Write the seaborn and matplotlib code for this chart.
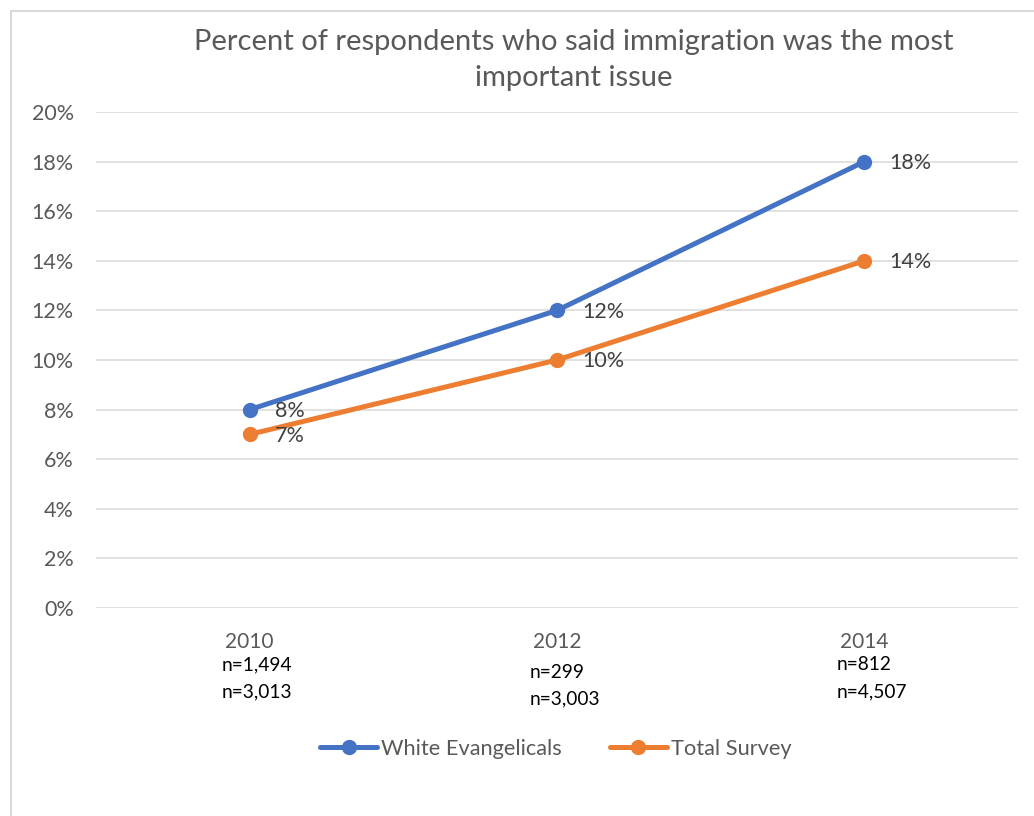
import numpy as np
import pandas as pd
import matplotlib
matplotlib.use("Agg")
import matplotlib.pyplot as plt
import matplotlib.transforms as mtransforms
from matplotlib.patches import Rectangle
import seaborn as sns

# Survey data
years = ["2010", "2012", "2014"]
white_evangelicals = [8, 12, 18]
total_survey = [7, 10, 14]
n_evangelicals = ["n=1,494", "n=299", "n=812"]
n_total = ["n=3,013", "n=3,003", "n=4,507"]
series_names = ["White Evangelicals", "Total Survey"]
title = "Percent of respondents who said immigration was the most\nimportant issue"

colors = {"White Evangelicals": "#4472C4", "Total Survey": "#ED7D31"}

pos = np.arange(len(years))
df = pd.concat([
    pd.DataFrame({"pos": pos, "year": years, "value": white_evangelicals,
                  "series": series_names[0]}),
    pd.DataFrame({"pos": pos, "year": years, "value": total_survey,
                  "series": series_names[1]}),
], ignore_index=True)

sns.set_theme(style="white")
plt.rcParams["font.family"] = ["Lato", "DejaVu Sans"]

W, H = 1034, 816
fig = plt.figure(figsize=(W / 100, H / 100), dpi=100)
ax = fig.add_axes([96 / W, 1 - 608 / H, (1018 - 96) / W, (608 - 112) / H])

sns.lineplot(data=df, x="pos", y="value", hue="series", palette=colors,
             hue_order=series_names, marker="o", markersize=11,
             markeredgewidth=0, linewidth=3.6, ax=ax, legend=False)

ax.set_xlim(-0.5, len(years) - 0.5)
ax.set_ylim(0, 20)
ax.set_yticks(np.arange(0, 21, 2))
ax.set_yticklabels([f"{v}%" for v in range(0, 21, 2)])
ax.set_xticks(pos)
ax.set_xticklabels(years)
ax.set_xlabel("")
ax.set_ylabel("")
ax.grid(axis="y", color="#D9D9D9", linewidth=1.1)
ax.grid(axis="x", visible=False)
ax.set_axisbelow(True)
for s in ax.spines.values():
    s.set_visible(False)
ax.tick_params(axis="y", length=0, pad=16, labelsize=15.5, labelcolor="#595959")
ax.tick_params(axis="x", length=0, pad=17, labelsize=15, labelcolor="#595959")

# Value labels to the right of each point
for name, vals in zip(series_names, [white_evangelicals, total_survey]):
    for p, v in zip(pos, vals):
        ax.annotate(f"{v}%", (p, v), xytext=(18, -1), textcoords="offset points",
                    ha="left", va="center", fontsize=15.5, color="#404040")

# Sample sizes below each year
trans = mtransforms.blended_transform_factory(ax.transData, fig.transFigure)
n_shift = [0, 7, 0]
for p, a, b, s in zip(pos, n_evangelicals, n_total, n_shift):
    ax.annotate(a, (p, 1 - (665 + s) / H), xycoords=trans, xytext=(-20, 0),
                textcoords="offset points", ha="left", va="center",
                fontsize=13.8, color="black", annotation_clip=False)
    ax.annotate(b, (p, 1 - (692 + s) / H), xycoords=trans, xytext=(-20, 0),
                textcoords="offset points", ha="left", va="center",
                fontsize=13.8, color="black", annotation_clip=False)

fig.text(574 / W, 1 - 60 / H, title, ha="center", va="center",
         fontsize=21, color="#595959", linespacing=1.45)

handles = [plt.Line2D([], [], color=colors[n], linewidth=3.6, marker="o",
                      markersize=11, markeredgewidth=0) for n in series_names]
fig.legend(handles, series_names, loc="center", ncol=2,
           bbox_to_anchor=(556 / W, 1 - 749 / H), frameon=False,
           fontsize=15.7, labelcolor="#595959", handlelength=2.6,
           handletextpad=0.2, columnspacing=2.2, numpoints=1)

# Chart frame
fig.patches.append(Rectangle((11 / W, -0.1), 2, 1 - 11 / H + 0.1,
                             transform=fig.transFigure, fill=False,
                             edgecolor="#D9D9D9", linewidth=1.5))

fig.savefig("out.png", dpi=100, facecolor="white")
